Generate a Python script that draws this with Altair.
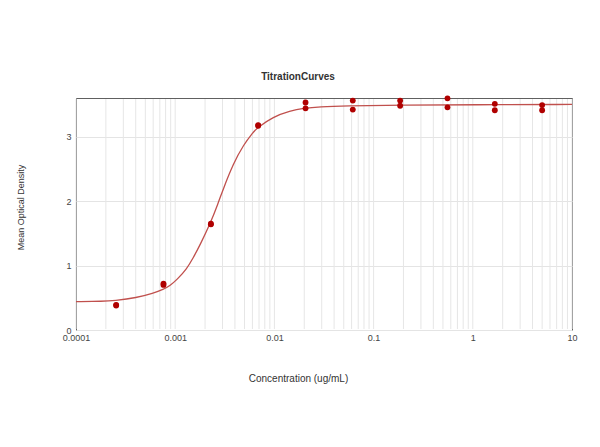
import altair as alt
import pandas as pd

# Measured points: 3-fold dilution series (ug/mL), two replicates
conc = [5, 1.667, 0.5556, 0.1852, 0.0617, 0.0206, 0.00686, 0.00229, 0.000762, 0.000254]
rep1 = [3.49, 3.51, 3.595, 3.56, 3.56, 3.53, 3.18, 1.64, 0.72, 0.38]
rep2 = [3.41, 3.41, 3.455, 3.48, 3.42, 3.44, 3.17, 1.65, 0.70, 0.39]

# Fitted curve
curve_x = [0.0001, 0.00019, 0.00024, 0.00041, 0.0006, 0.00076, 0.00089, 0.00104, 0.00131,
           0.00152, 0.00178, 0.00224, 0.0027, 0.00305, 0.00385, 0.00486,
           0.00613, 0.00662, 0.00975, 0.0144, 0.0196, 0.0288, 0.05, 0.2, 1, 10]
curve_y = [0.44, 0.445, 0.455, 0.50, 0.57, 0.63, 0.69, 0.78, 0.95,
           1.12, 1.32, 1.64, 1.96, 2.19, 2.58, 2.87,
           3.07, 3.13, 3.31, 3.40, 3.44, 3.465, 3.48, 3.49, 3.495, 3.50]

x_ticks = [0.0001, 0.001, 0.01, 0.1, 1, 10]
y_ticks = [0, 1, 2, 3]
grid_x = [m * d for d in [0.0001, 0.001, 0.01, 0.1, 1] for m in range(1, 10)] + [10]

pts = pd.DataFrame({"conc": conc * 2, "od": rep1 + rep2})
crv = pd.DataFrame({"conc": curve_x, "od": curve_y})
grd = pd.DataFrame({"g": grid_x})

xscale = alt.Scale(type="log", domain=[0.0001, 10], nice=False)
yscale = alt.Scale(domain=[0, 3.6], nice=False, zero=False)

xaxis = alt.Axis(values=x_ticks, format="~g", grid=False, ticks=False, domain=False,
                 labelFlush=False, labelFontSize=9, labelColor="#444", labelPadding=3,
                 title="Concentration (ug/mL)", titleFontSize=10, titleFontWeight="normal",
                 titleColor="#333", titleX=222, titleY=43)
yaxis = alt.Axis(values=y_ticks, format="d", grid=True, gridColor="#e4e4e4", ticks=False,
                 domain=False, labelFlush=False, labelFontSize=9, labelColor="#444",
                 labelPadding=5, title="Mean Optical Density", titleFontSize=9,
                 titleFontWeight="normal", titleColor="#333", titleX=-51, titleY=109)

grid = alt.Chart(grd).mark_rule(color="#e6e6e6", strokeWidth=1).encode(
    x=alt.X("g:Q", scale=xscale, axis=xaxis),
    y=alt.value(1),
    y2=alt.value(231),
)

line = alt.Chart(crv).mark_line(color="#c0504d", strokeWidth=1.3, interpolate="basis").encode(
    x=alt.X("conc:Q", scale=xscale),
    y=alt.Y("od:Q", scale=yscale, axis=yaxis),
)

dots = alt.Chart(pts).mark_circle(color="#b00000", size=34, opacity=1).encode(
    x=alt.X("conc:Q", scale=xscale),
    y=alt.Y("od:Q", scale=yscale),
)

chart = alt.layer(grid, line, dots).properties(
    width=496,
    height=232,
    title=alt.TitleParams("TitrationCurves", fontSize=10, fontWeight="bold", color="#333",
                          font="Liberation Sans", dx=-26, offset=13),
    autosize=alt.AutoSizeParams(type="none"),
    padding={"left": 68, "top": 90, "right": 20, "bottom": 109},
).configure(
    font="Liberation Sans",
).configure_view(
    stroke="#606060", strokeWidth=1
)

chart.save("out.html", embed_options={"renderer": "svg", "actions": False})
